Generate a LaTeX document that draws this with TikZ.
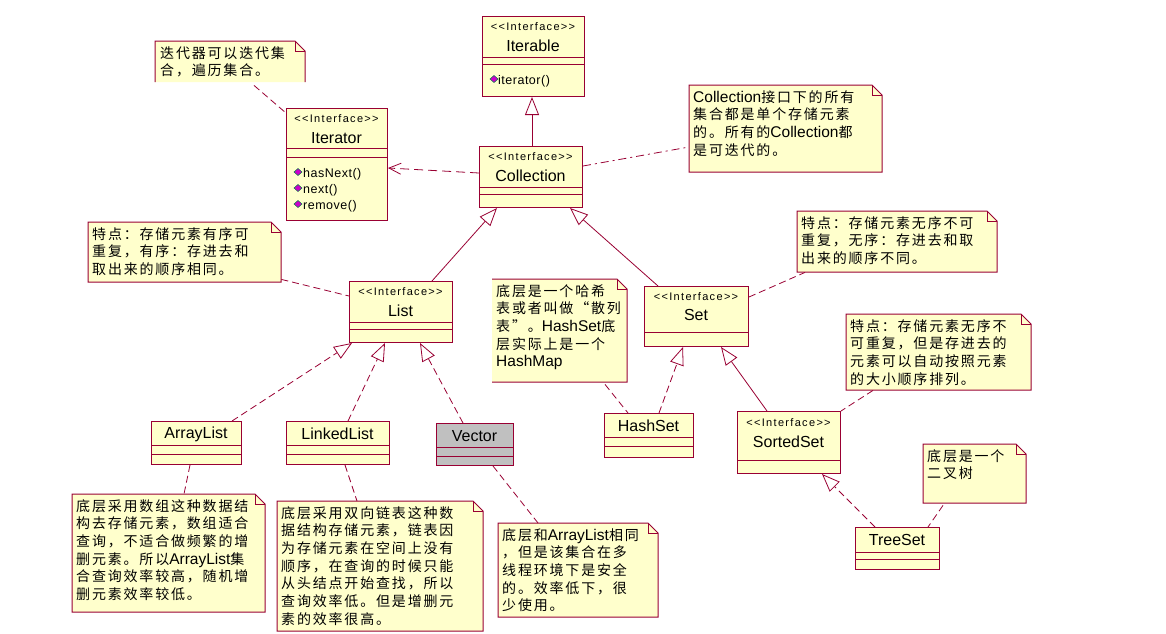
\documentclass[tikz,border=0pt]{standalone}
\usepackage{fontspec}
\setmainfont{Liberation Sans}
\newfontfamily\cjk[LetterSpace=13]{Noto Sans CJK SC}
\newfontfamily\stfont[LetterSpace=12]{Liberation Sans}
\newfontfamily\mfont[LetterSpace=4]{Liberation Sans}
\newfontfamily\latinf{Liberation Sans}
\usetikzlibrary{arrows.meta,calc}
\definecolor{bd}{RGB}{153,0,51}
\definecolor{clsfill}{RGB}{255,255,204}
\definecolor{notefill}{RGB}{255,255,204}
\definecolor{vecfill}{RGB}{192,192,192}
\definecolor{iconc}{RGB}{204,0,204}
\definecolor{icong}{RGB}{0,128,64}
\newcommand\en[1]{{\latinf\fontsize{15.5}{17.7}\selectfont #1}}
\newcommand\ster{<{}<Interface>{}>}
\newcommand\micon[2]{\filldraw[fill=iconc, draw=icong, line width=0.5pt] (#1,#2-3.5) -- (#1+4,#2) -- (#1,#2+3.5) -- (#1-4,#2) -- cycle;}
% name, x, y, w, h, text
\newcommand\umlnote[6]{%
  \filldraw[fill=notefill, draw=bd, line width=1pt] (#2,#3) -- ++(#4-10,0) -- ++(10,10) -- ++(0,#5-10) -- ++(-#4,0) -- cycle;
  \draw[bdline] (#2+#4-10,#3) -- ++(0,10) -- ++(10,0);
  \node[notebox, minimum width=#4pt, minimum height=#5pt, anchor=north west] (#1) at (#2,#3) {};
  \node[notetxt] at ($(#1.north west)+(4,5)$) {#6};}
\tikzset{
  bdline/.style={draw=bd, line width=1pt},
  clsbox/.style={draw=bd, fill=clsfill, line width=1pt, inner sep=0pt, rectangle, anchor=north west},
  notebox/.style={inner sep=0pt, rectangle},
  notetxt/.style={anchor=north west, inner sep=0pt, align=left, font=\cjk\fontsize{14}{17.7}\selectfont},
  stereo/.style={font=\stfont\fontsize{11}{12}\selectfont, inner sep=0pt},
  cname/.style={font=\fontsize{16}{18}\selectfont, inner sep=0pt},
  meth/.style={font=\mfont\fontsize{12.5}{14}\selectfont, inner sep=0pt, anchor=west},
  gen/.style={draw=bd, line width=0.8pt, -{Triangle[open, length=18pt, width=14pt, line width=0.8pt]}},
  real/.style={gen, dash pattern=on 7pt off 4pt},
  dep/.style={draw=bd, line width=0.8pt, dash pattern=on 9pt off 5pt, -{Straight Barb[length=12pt, width=11pt, line width=0.8pt]}},
  link/.style={draw=bd, line width=0.8pt, dash pattern=on 7pt off 4pt},
  linkdd/.style={draw=bd, line width=0.8pt, dash pattern=on 8pt off 4pt on 2pt off 4pt},
}
\begin{document}
\begin{tikzpicture}[x=1pt,y=-1pt]
\useasboundingbox[fill=white] (0,0) rectangle (1166,633);

% ---------- classes ----------
% Iterable
\node[clsbox, minimum width=102pt, minimum height=80pt] (iterable) at (482,16) {};
\node[stereo] at (533,27) {\ster};
\node[cname] at (533,46) {Iterable};
\draw[bdline] (482,57) -- (584,57) (482,64) -- (584,64);
\micon{494}{79}
\node[meth] at (498,81) {iterator()};

% Iterator
\node[clsbox, minimum width=101pt, minimum height=112pt] (iterator) at (286,108) {};
\node[stereo] at (336.5,119) {\ster};
\node[cname] at (336.5,138) {Iterator};
\draw[bdline] (286,148) -- (387,148) (286,157) -- (387,157);
\micon{298}{172}
\node[meth] at (303,174) {hasNext()};
\micon{298}{188}
\node[meth] at (303,190) {next()};
\micon{298}{204}
\node[meth] at (303,206) {remove()};

% Collection
\node[clsbox, minimum width=103pt, minimum height=61pt] (collection) at (479,146) {};
\node[stereo] at (530.5,157) {\ster};
\node[cname] at (530.5,176) {Collection};
\draw[bdline] (479,187) -- (582,187) (479,194) -- (582,194);

% List
\node[clsbox, minimum width=103pt, minimum height=61pt] (list) at (349,281) {};
\node[stereo] at (400.5,292) {\ster};
\node[cname] at (400.5,311) {List};
\draw[bdline] (349,322) -- (452,322) (349,329) -- (452,329);

% Set
\node[clsbox, minimum width=104pt, minimum height=60pt] (set) at (644,286) {};
\node[stereo] at (696,297) {\ster};
\node[cname] at (696,315) {Set};
\draw[bdline] (644,332) -- (748,332);

% ArrayList
\node[clsbox, minimum width=90pt, minimum height=43pt] (arraylist) at (151,421) {};
\node[cname] at (196,434) {ArrayList};
\draw[bdline] (151,445) -- (241,445) (151,454) -- (241,454);

% LinkedList
\node[clsbox, minimum width=103pt, minimum height=43pt] (linkedlist) at (286,421) {};
\node[cname] at (337.5,434) {LinkedList};
\draw[bdline] (286,445) -- (389,445) (286,454) -- (389,454);

% Vector
\node[clsbox, fill=vecfill, minimum width=77pt, minimum height=42pt] (vector) at (436,423) {};
\node[cname] at (474.5,436) {Vector};
\draw[bdline] (436,447) -- (513,447) (436,456) -- (513,456);

% HashSet
\node[clsbox, minimum width=89pt, minimum height=44pt] (hashset) at (604,413) {};
\node[cname] at (648.5,426) {HashSet};
\draw[bdline] (604,437) -- (693,437) (604,446) -- (693,446);

% SortedSet
\node[clsbox, minimum width=103pt, minimum height=62pt] (sortedset) at (737,411) {};
\node[stereo] at (788.5,423) {\ster};
\node[cname] at (788.5,442) {SortedSet};
\draw[bdline] (737,460) -- (840,460);

% TreeSet
\node[clsbox, minimum width=84pt, minimum height=42pt] (treeset) at (855,527) {};
\node[cname] at (897,540) {TreeSet};
\draw[bdline] (855,552) -- (939,552) (855,559) -- (939,559);

% ---------- notes ----------
% iterator note (no bottom edge)
\fill[notefill] (155,41) -- (295,41) -- (305,51) -- (305,82) -- (155,82) -- cycle;
\draw[bdline] (155,82) -- (155,41) -- (295,41) -- (305,51) -- (305,82);
\draw[bdline] (295,41) -- (295,51) -- (305,51);
\node[notebox, minimum width=150pt, minimum height=41pt, anchor=north west] (itnote) at (155,41) {};
\node[notetxt] at ($(itnote.north west)+(5,5)$) {迭代器可以迭代集\\合，遍历集合。};

% hash note (no left edge)
\fill[notefill] (492,279) -- (617,279) -- (627,289) -- (627,382) -- (492,382) -- cycle;
\draw[bdline] (492,279) -- (617,279) -- (627,289) -- (627,382) -- (492,382);
\draw[bdline] (617,279) -- (617,289) -- (627,289);
\node[notebox, minimum width=135pt, minimum height=103pt, anchor=north west] (hashnote) at (492,279) {};
\node[notetxt] at ($(hashnote.north west)+(4,5)$) {底层是一个哈希\\表或者叫做“散列\\表”。\en{HashSet}底\\层实际上是一个\\\en{HashMap}};

\umlnote{collnote}{689}{85}{193}{87}{\en{Collection}接口下的所有\\集合都是单个存储元素\\的。所有的\en{Collection}都\\是可迭代的。}
\umlnote{listnote}{88}{222}{193}{60}{特点：存储元素有序可\\重复，有序：存进去和\\取出来的顺序相同。}
\umlnote{setnote}{797}{211}{200}{61}{特点：存储元素无序不可\\重复，无序：存进去和取\\出来的顺序不同。}
\umlnote{sortednote}{846}{314}{185}{76}{特点：存储元素无序不\\可重复，但是存进去的\\元素可以自动按照元素\\的大小顺序排列。}
\umlnote{treenote}{923}{444}{103}{59}{底层是一个\\二叉树}
\umlnote{alnote}{72}{494}{193}{118}{底层采用数组这种数据结\\构去存储元素，数组适合\\查询，不适合做频繁的增\\删元素。所以\en{ArrayList}集\\合查询效率较高，随机增\\删元素效率较低。}
\umlnote{llnote}{277}{501}{206}{130}{底层采用双向链表这种数\\据结构存储元素，链表因\\为存储元素在空间上没有\\顺序，在查询的时候只能\\从头结点开始查找，所以\\查询效率低。但是增删元\\素的效率很高。}
\umlnote{vecnote}{498}{523}{160}{94}{底层和\en{ArrayList}相同\\，但是该集合在多\\线程环境下是安全\\的。效率低下，很\\少使用。}

% ---------- connectors ----------
\draw[gen] ($(collection.north west)+(53,0)$) -- ($(iterable.south west)+(50,0)$);
\draw[dep] ($(collection.north west)+(0,27)$) -- ($(iterator.north east)+(0,60)$);
\draw[linkdd] ($(collection.north east)+(0,20)$) -- ($(collnote.north west)+(0,62)$);
\draw[link] ($(itnote.south west)+(99,3)$) -- ($(iterator.north west)+(0,5)$);

\draw[gen] ($(list.north west)+(83,0)$) -- ($(collection.south west)+(18,0)$);
\draw[gen] ($(set.north west)+(14,0)$) -- ($(collection.south east)+(-13,0)$);
\draw[link] ($(listnote.south east)+(0,-3)$) -- ($(list.north west)+(0,15)$);

\draw[real] ($(arraylist.north west)+(81,0)$) -- ($(list.south west)+(3,0)$);
\draw[real] ($(linkedlist.north west)+(62,0)$) -- ($(list.south west)+(36,0)$);
\draw[real] ($(vector.north west)+(27,0)$) -- ($(list.south west)+(71,0)$);

\draw[link] ($(arraylist.south west)+(39,0)$) -- ($(alnote.north west)+(112,0)$);
\draw[link] ($(linkedlist.south west)+(59,0)$) -- ($(llnote.north west)+(80,0)$);
\draw[link] ($(vector.south west)+(57,0)$) -- ($(vecnote.north west)+(40,0)$);

\draw[link] ($(hashnote.south west)+(113,2)$) -- ($(hashset.north west)+(24,0)$);
\draw[real] ($(hashset.north west)+(55,0)$) -- ($(set.south west)+(39,0)$);
\draw[link] ($(set.north east)+(0,11)$) -- ($(setnote.south west)+(8,0)$);
\draw[gen] ($(sortedset.north west)+(30,0)$) -- ($(set.south east)+(-28,0)$);
\draw[link] ($(sortednote.south west)+(27,0)$) -- (sortedset.north east);
\draw[real] ($(treeset.north west)+(20,0)$) -- ($(sortedset.south west)+(85,0)$);
\draw[link] ($(treenote.south west)+(20,2)$) -- ($(treeset.north west)+(73,0)$);
\end{tikzpicture}
\end{document}
